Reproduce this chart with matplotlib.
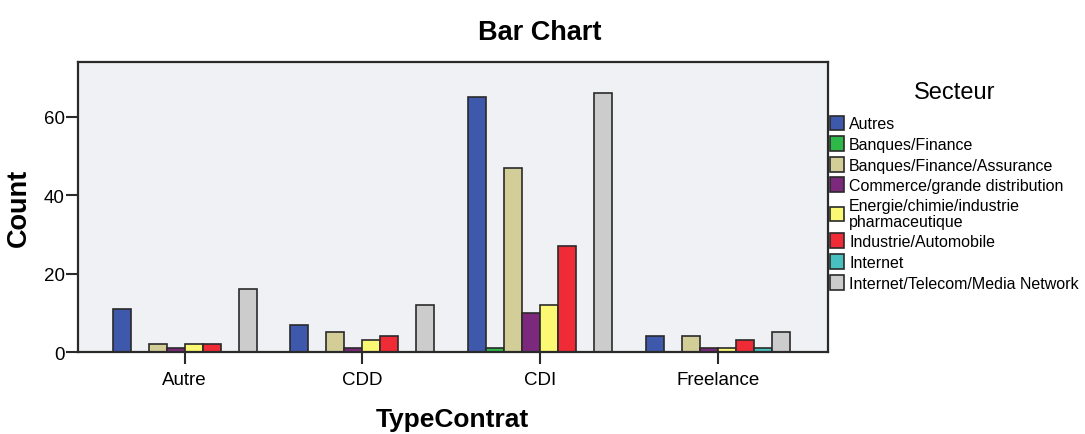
import numpy as np
import matplotlib.pyplot as plt

plt.rcParams['font.family'] = ['Liberation Sans', 'DejaVu Sans']

# Data
contrats = ["Autre", "CDD", "CDI", "Freelance"]
secteurs = ["Autres", "Banques/Finance", "Banques/Finance/Assurance",
            "Commerce/grande distribution",
            "Energie/chimie/industrie\npharmaceutique",
            "Industrie/Automobile", "Internet",
            "Internet/Telecom/Media Network"]
autres = [11, 7, 65, 4]
banques = [0, 0, 1, 0]
banques_ass = [2, 5, 47, 4]
commerce = [1, 1, 10, 1]
energie = [2, 3, 12, 1]
industrie = [2, 4, 27, 3]
internet = [0, 0, 0, 1]
telecom = [16, 12, 66, 5]
counts = [autres, banques, banques_ass, commerce, energie, industrie, internet, telecom]
colors = ["#3E58AC", "#2EB848", "#D3CE97", "#7B287D",
          "#FBF873", "#EF2B36", "#48C0BF", "#CCCCCD"]

W, H = 1085, 435
fig = plt.figure(figsize=(W/100, H/100), dpi=100)
ax = fig.add_axes([78/W, 1-353/H, 750/W, 290/H])
ax.set_facecolor("#F0F1F4")

x = np.arange(len(contrats))
w = 18/178
for i, (vals, col) in enumerate(zip(counts, colors)):
    ax.bar(x + (i - 3.5)*w, vals, width=w, color=col, edgecolor="#2a2a2a",
           linewidth=1.2, label=secteurs[i])

ax.set_xlim(-0.6, 3.62)
ax.set_ylim(0, 74)
ax.set_xticks(x)
ax.set_xticklabels(contrats)
ax.set_yticks([0, 20, 40, 60])
ax.tick_params(labelsize=13.5, width=1.5, length=8.5, color="#2a2a2a")
ax.tick_params(axis="x", pad=5)
ax.tick_params(axis="y", pad=1)
for s in ax.spines.values():
    s.set_linewidth(1.6)
    s.set_color("#2a2a2a")

fig.text(19/W, 1-208/H, "Count", fontsize=19.5, fontweight="bold",
         rotation=90, ha="center", va="center")
fig.text(452/W, 1-420/H, "TypeContrat", fontsize=19, fontweight="bold",
         ha="center", va="center")
fig.text(540/W, 1-33/H, "Bar Chart", fontsize=19.5, fontweight="bold",
         ha="center", va="center")

leg = ax.legend(loc="upper left", bbox_to_anchor=(1.0 + 2/750, (353-82)/290),
                frameon=False, fontsize=11.5, title="Secteur", title_fontsize=17,
                handlelength=0.9, handleheight=1.05, handletextpad=0.3,
                labelspacing=0.3, borderaxespad=0.0, borderpad=0.0)
leg._legend_box.sep = 9
leg.get_texts()[4].set_linespacing(1.05)
for p in leg.get_patches():
    p.set_linewidth(1.2)

plt.savefig("out.png")
